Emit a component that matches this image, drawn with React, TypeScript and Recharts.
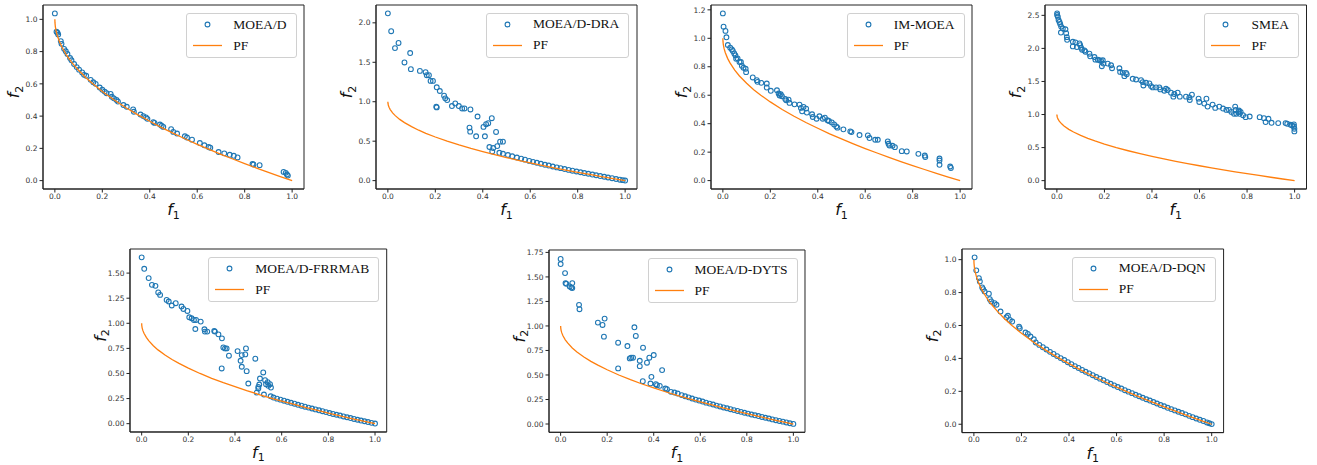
import { ScatterChart, Scatter, XAxis, YAxis, ReferenceArea } from 'recharts';

// Pareto front (f2)
const pfF1 = [0, 0.0005, 0.002, 0.005, 0.01, 0.02, 0.03, 0.05, 0.07, 0.1, 0.13, 0.16, 0.2, 0.25, 0.3, 0.35, 0.4, 0.45, 0.5, 0.55, 0.6, 0.65, 0.7, 0.75, 0.8, 0.85, 0.9, 0.95, 1.0];
const pfF2 = [1, 0.978, 0.955, 0.929, 0.9, 0.859, 0.827, 0.776, 0.735, 0.684, 0.639, 0.6, 0.553, 0.5, 0.452, 0.408, 0.368, 0.329, 0.293, 0.258, 0.225, 0.194, 0.163, 0.134, 0.106, 0.078, 0.051, 0.025, 0];

const xTicks = [0, 0.2, 0.4, 0.6, 0.8, 1];
const yTicksUnit = [0, 0.2, 0.4, 0.6, 0.8, 1];
const yTicksIm = [0, 0.2, 0.4, 0.6, 0.8, 1, 1.2];
const yTicksHalf = [0, 0.5, 1, 1.5, 2];
const yTicksSmea = [0, 0.5, 1, 1.5, 2, 2.5];
const yTicksFrr = [0, 0.25, 0.5, 0.75, 1, 1.25, 1.5];
const yTicksDyts = [0, 0.25, 0.5, 0.75, 1, 1.25, 1.5, 1.75];

type Pt = [number, number];

const moead: Pt[] = [[0, 1.037], [0.007, 0.923], [0.011, 0.917], [0.014, 0.906], [0.025, 0.865], [0.028, 0.848], [0.039, 0.817], [0.046, 0.802], [0.053, 0.785], [0.064, 0.76], [0.07, 0.746], [0.081, 0.723], [0.092, 0.704], [0.102, 0.688], [0.115, 0.671], [0.123, 0.656], [0.132, 0.65], [0.151, 0.625], [0.162, 0.61], [0.172, 0.6], [0.189, 0.577], [0.2, 0.563], [0.21, 0.552], [0.218, 0.542], [0.235, 0.538], [0.24, 0.52], [0.249, 0.51], [0.26, 0.5], [0.266, 0.49], [0.289, 0.469], [0.303, 0.458], [0.33, 0.442], [0.333, 0.427], [0.361, 0.41], [0.373, 0.4], [0.384, 0.392], [0.39, 0.383], [0.415, 0.363], [0.42, 0.358], [0.443, 0.348], [0.45, 0.34], [0.457, 0.333], [0.49, 0.319], [0.499, 0.302], [0.515, 0.292], [0.548, 0.275], [0.557, 0.267], [0.578, 0.254], [0.611, 0.233], [0.63, 0.219], [0.648, 0.208], [0.655, 0.204], [0.69, 0.177], [0.714, 0.169], [0.737, 0.16], [0.754, 0.154], [0.77, 0.144], [0.833, 0.104], [0.837, 0.1], [0.863, 0.096], [0.964, 0.054], [0.973, 0.048], [0.978, 0.038], [0.982, 0.031]];

const moeadDra: Pt[] = [[0, 2.12], [0.014, 1.894], [0.03, 1.68], [0.045, 1.745], [0.07, 1.498], [0.094, 1.617], [0.097, 1.413], [0.135, 1.391], [0.159, 1.374], [0.164, 1.336], [0.173, 1.336], [0.18, 1.264], [0.19, 1.264], [0.206, 1.183], [0.219, 1.136], [0.237, 1.077], [0.242, 1.043], [0.25, 1.021], [0.204, 0.936], [0.206, 0.928], [0.27, 0.945], [0.284, 0.979], [0.299, 0.945], [0.313, 0.915], [0.323, 0.915], [0.348, 0.902], [0.378, 0.813], [0.344, 0.672], [0.347, 0.621], [0.372, 0.562], [0.403, 0.681], [0.414, 0.715], [0.423, 0.728], [0.438, 0.791], [0.409, 0.562], [0.456, 0.617], [0.428, 0.426], [0.44, 0.37], [0.444, 0.413], [0.461, 0.438], [0.473, 0.494], [0.485, 0.494], [0.47, 0.353], [0.485, 0.34], [0.506, 0.325], [0.524, 0.309], [0.544, 0.293], [0.562, 0.279], [0.578, 0.266], [0.596, 0.25], [0.612, 0.238], [0.628, 0.226], [0.645, 0.214], [0.662, 0.201], [0.678, 0.191], [0.695, 0.179], [0.712, 0.168], [0.728, 0.158], [0.745, 0.147], [0.762, 0.136], [0.778, 0.126], [0.795, 0.116], [0.812, 0.106], [0.828, 0.097], [0.845, 0.087], [0.862, 0.077], [0.878, 0.068], [0.895, 0.058], [0.912, 0.049], [0.928, 0.04], [0.945, 0.031], [0.962, 0.021], [0.978, 0.012], [0.99, 0.006], [1.0, 0.001]];

const imMoea: Pt[] = [[0, 1.175], [0.003, 1.082], [0.011, 1.052], [0.015, 1.007], [0.021, 0.953], [0.031, 0.934], [0.038, 0.922], [0.042, 0.911], [0.048, 0.894], [0.053, 0.88], [0.056, 0.856], [0.062, 0.859], [0.07, 0.833], [0.076, 0.833], [0.08, 0.807], [0.087, 0.793], [0.096, 0.786], [0.098, 0.762], [0.126, 0.725], [0.143, 0.706], [0.146, 0.694], [0.162, 0.687], [0.185, 0.682], [0.185, 0.654], [0.202, 0.631], [0.228, 0.635], [0.235, 0.612], [0.239, 0.598], [0.244, 0.607], [0.249, 0.593], [0.263, 0.574], [0.267, 0.565], [0.277, 0.569], [0.281, 0.546], [0.302, 0.536], [0.323, 0.534], [0.329, 0.511], [0.334, 0.487], [0.34, 0.518], [0.351, 0.506], [0.354, 0.478], [0.376, 0.466], [0.379, 0.447], [0.395, 0.435], [0.407, 0.452], [0.421, 0.435], [0.43, 0.442], [0.441, 0.424], [0.447, 0.419], [0.459, 0.409], [0.469, 0.395], [0.478, 0.381], [0.483, 0.372], [0.508, 0.36], [0.537, 0.346], [0.542, 0.341], [0.576, 0.32], [0.611, 0.318], [0.618, 0.299], [0.642, 0.287], [0.653, 0.287], [0.695, 0.275], [0.698, 0.259], [0.702, 0.247], [0.715, 0.245], [0.725, 0.235], [0.754, 0.207], [0.775, 0.205], [0.824, 0.188], [0.851, 0.176], [0.853, 0.165], [0.913, 0.155], [0.913, 0.141], [0.913, 0.111], [0.958, 0.099], [0.961, 0.089]];

const smea: Pt[] = [[0.001, 2.53], [0.001, 2.505], [0.004, 2.48], [0.007, 2.43], [0.011, 2.4], [0.014, 2.37], [0.018, 2.33], [0.017, 2.24], [0.025, 2.3], [0.036, 2.29], [0.039, 2.23], [0.042, 2.17], [0.043, 2.13], [0.067, 2.1], [0.067, 2.03], [0.078, 2.09], [0.084, 2.02], [0.095, 2.075], [0.098, 2.05], [0.102, 2.01], [0.106, 1.98], [0.116, 1.97], [0.12, 1.95], [0.137, 1.92], [0.14, 1.88], [0.158, 1.87], [0.162, 1.83], [0.172, 1.83], [0.179, 1.82], [0.186, 1.81], [0.193, 1.82], [0.189, 1.73], [0.196, 1.77], [0.214, 1.77], [0.228, 1.745], [0.232, 1.7], [0.263, 1.7], [0.266, 1.645], [0.277, 1.63], [0.284, 1.58], [0.291, 1.63], [0.294, 1.61], [0.319, 1.54], [0.333, 1.53], [0.354, 1.52], [0.361, 1.49], [0.364, 1.44], [0.375, 1.48], [0.389, 1.47], [0.396, 1.43], [0.403, 1.41], [0.417, 1.41], [0.431, 1.41], [0.435, 1.38], [0.452, 1.36], [0.459, 1.39], [0.466, 1.37], [0.48, 1.33], [0.49, 1.27], [0.494, 1.31], [0.508, 1.33], [0.517, 1.27], [0.543, 1.27], [0.557, 1.26], [0.559, 1.22], [0.568, 1.3], [0.596, 1.24], [0.599, 1.19], [0.62, 1.165], [0.629, 1.24], [0.634, 1.12], [0.655, 1.15], [0.666, 1.1], [0.683, 1.12], [0.699, 1.09], [0.713, 1.07], [0.724, 1.07], [0.734, 1.04], [0.745, 1.01], [0.75, 1.12], [0.752, 1.07], [0.755, 1.01], [0.764, 1.04], [0.766, 1.06], [0.769, 1.01], [0.773, 1.04], [0.783, 0.99], [0.794, 0.96], [0.811, 0.97], [0.853, 0.96], [0.871, 0.945], [0.878, 0.885], [0.89, 0.935], [0.903, 0.875], [0.931, 0.87], [0.962, 0.87], [0.969, 0.86], [0.983, 0.845], [0.99, 0.835], [0.997, 0.82], [0.999, 0.785], [0.999, 0.745], [0.997, 0.85]];

const frrmab: Pt[] = [[0, 1.657], [0.011, 1.543], [0.03, 1.45], [0.044, 1.383], [0.059, 1.373], [0.071, 1.307], [0.079, 1.283], [0.107, 1.233], [0.116, 1.217], [0.129, 1.177], [0.146, 1.2], [0.171, 1.167], [0.179, 1.143], [0.196, 1.123], [0.204, 1.06], [0.214, 1.05], [0.224, 1.033], [0.233, 1.033], [0.23, 0.943], [0.253, 1.017], [0.269, 0.94], [0.271, 0.917], [0.281, 0.917], [0.311, 0.923], [0.314, 0.917], [0.329, 0.89], [0.344, 0.85], [0.35, 0.76], [0.357, 0.75], [0.364, 0.75], [0.343, 0.55], [0.374, 0.677], [0.411, 0.723], [0.424, 0.627], [0.429, 0.683], [0.429, 0.567], [0.444, 0.69], [0.447, 0.75], [0.45, 0.523], [0.457, 0.4], [0.487, 0.647], [0.493, 0.31], [0.5, 0.367], [0.504, 0.39], [0.507, 0.45], [0.5, 0.35], [0.521, 0.51], [0.529, 0.433], [0.533, 0.393], [0.524, 0.29], [0.54, 0.413], [0.543, 0.377], [0.55, 0.393], [0.554, 0.36], [0.553, 0.273], [0.565, 0.26], [0.58, 0.249], [0.595, 0.239], [0.61, 0.229], [0.625, 0.218], [0.64, 0.208], [0.655, 0.199], [0.67, 0.188], [0.685, 0.179], [0.7, 0.169], [0.715, 0.16], [0.73, 0.151], [0.745, 0.142], [0.76, 0.133], [0.775, 0.124], [0.79, 0.115], [0.805, 0.106], [0.82, 0.097], [0.835, 0.089], [0.85, 0.081], [0.865, 0.072], [0.88, 0.064], [0.895, 0.056], [0.91, 0.047], [0.925, 0.039], [0.94, 0.031], [0.955, 0.024], [0.97, 0.016], [0.985, 0.008], [1.0, 0.001]];

const dyts: Pt[] = [[0, 1.683], [0, 1.631], [0.019, 1.539], [0.021, 1.437], [0.024, 1.43], [0.039, 1.403], [0.046, 1.392], [0.05, 1.437], [0.05, 1.386], [0.079, 1.215], [0.081, 1.171], [0.16, 1.034], [0.18, 1.01], [0.189, 1.075], [0.186, 0.891], [0.247, 0.829], [0.247, 0.567], [0.287, 0.795], [0.297, 0.669], [0.303, 0.676], [0.311, 0.676], [0.317, 0.986], [0.323, 0.898], [0.34, 0.645], [0.34, 0.59], [0.353, 0.437], [0.354, 0.778], [0.371, 0.625], [0.381, 0.676], [0.4, 0.703], [0.39, 0.481], [0.386, 0.413], [0.409, 0.406], [0.414, 0.396], [0.426, 0.389], [0.436, 0.55], [0.45, 0.362], [0.457, 0.355], [0.474, 0.328], [0.489, 0.321], [0.503, 0.311], [0.52, 0.295], [0.535, 0.283], [0.55, 0.272], [0.565, 0.26], [0.58, 0.249], [0.595, 0.239], [0.61, 0.229], [0.625, 0.218], [0.64, 0.208], [0.655, 0.199], [0.67, 0.188], [0.685, 0.179], [0.7, 0.169], [0.715, 0.16], [0.73, 0.151], [0.745, 0.142], [0.76, 0.133], [0.775, 0.124], [0.79, 0.115], [0.805, 0.106], [0.82, 0.097], [0.835, 0.089], [0.85, 0.081], [0.865, 0.072], [0.88, 0.064], [0.895, 0.056], [0.91, 0.047], [0.925, 0.039], [0.94, 0.031], [0.955, 0.024], [0.97, 0.016], [0.985, 0.008], [1.0, 0.001]];

const dqn: Pt[] = [[0.003, 1.014], [0.01, 0.935], [0.021, 0.888], [0.025, 0.868], [0.035, 0.831], [0.039, 0.821], [0.045, 0.807], [0.063, 0.793], [0.067, 0.76], [0.073, 0.746], [0.087, 0.736], [0.095, 0.726], [0.112, 0.685], [0.137, 0.65], [0.143, 0.659], [0.151, 0.634], [0.161, 0.624], [0.19, 0.593], [0.193, 0.583], [0.217, 0.557], [0.227, 0.549], [0.238, 0.533], [0.252, 0.516], [0.26, 0.497], [0.275, 0.482], [0.29, 0.468], [0.305, 0.454], [0.32, 0.44], [0.335, 0.427], [0.35, 0.414], [0.365, 0.402], [0.38, 0.39], [0.395, 0.377], [0.41, 0.365], [0.425, 0.353], [0.44, 0.342], [0.455, 0.33], [0.47, 0.319], [0.485, 0.309], [0.5, 0.298], [0.515, 0.287], [0.53, 0.277], [0.545, 0.267], [0.56, 0.256], [0.575, 0.246], [0.59, 0.236], [0.605, 0.226], [0.62, 0.217], [0.635, 0.207], [0.65, 0.198], [0.665, 0.189], [0.68, 0.179], [0.695, 0.17], [0.71, 0.161], [0.725, 0.152], [0.74, 0.144], [0.755, 0.135], [0.77, 0.126], [0.785, 0.117], [0.8, 0.109], [0.815, 0.1], [0.83, 0.092], [0.845, 0.084], [0.86, 0.076], [0.875, 0.068], [0.89, 0.06], [0.905, 0.051], [0.92, 0.043], [0.935, 0.035], [0.95, 0.027], [0.965, 0.02], [0.98, 0.011], [0.99, 0.006], [1.0, 0.001]];

const BLUE = '#1f77b4';
const ORANGE = '#ff7f0e';
const AXIS = '#222';
const X_DOMAIN = [-0.05, 1.05];

const pf = pfF1.map((x, i) => ({ x, y: pfF2[i] }));
const toRows = (pts: Pt[]) => pts.map(([x, y]) => ({ x, y }));

const panels = [
  { name: 'MOEA/D', pts: moead, l: 43, t: 5, w: 261, h: 184, yDomain: [-0.052, 1.089], yTicks: yTicksUnit, digits: 1 },
  { name: 'MOEA/D-DRA', pts: moeadDra, l: 375.7, t: 4.7, w: 261, h: 184, yDomain: [-0.106, 2.226], yTicks: yTicksHalf, digits: 1 },
  { name: 'IM-MOEA', pts: imMoea, l: 711, t: 5, w: 261, h: 184, yDomain: [-0.059, 1.234], yTicks: yTicksIm, digits: 1 },
  { name: 'SMEA', pts: smea, l: 1045, t: 5, w: 261.5, h: 184, yDomain: [-0.1265, 2.6565], yTicks: yTicksSmea, digits: 1 },
  { name: 'MOEA/D-FRRMAB', pts: frrmab, l: 130, t: 249.3, w: 256.7, h: 183, yDomain: [-0.083, 1.74], yTicks: yTicksFrr, digits: 2 },
  { name: 'MOEA/D-DYTS', pts: dyts, l: 549, t: 250, w: 256, h: 182.3, yDomain: [-0.0845, 1.7745], yTicks: yTicksDyts, digits: 2 },
  { name: 'MOEA/D-DQN', pts: dqn, l: 961.7, t: 248.7, w: 261.6, h: 183.6, yDomain: [-0.0507, 1.0647], yTicks: yTicksUnit, digits: 1 },
];

const Ring = (p: any) => (
  <circle cx={p.cx} cy={p.cy} r={2.4} fill="none" stroke={BLUE} strokeWidth={1.1} />
);
const NoDot = () => <g />;

function XTitle({ viewBox }: any) {
  if (!viewBox) return null;
  const cx = viewBox.x + viewBox.width / 2;
  return (
    <text x={cx} y={viewBox.y + 26} textAnchor="middle" fontFamily="DejaVu Sans" fontStyle="italic" fontSize={16} fill="#111">
      f<tspan fontStyle="normal" fontSize={11} dy={3.5}>1</tspan>
    </text>
  );
}

function YTitle({ viewBox }: any) {
  if (!viewBox) return null;
  const x = viewBox.x + viewBox.width - 24;
  const y = viewBox.y + viewBox.height / 2 - 5;
  return (
    <text x={x} y={y} transform={`rotate(-90 ${x} ${y})`} textAnchor="middle" fontFamily="DejaVu Sans" fontStyle="italic" fontSize={16} fill="#111">
      f<tspan fontStyle="normal" fontSize={11} dy={3.5}>2</tspan>
    </text>
  );
}

function LegendBox({ name }: { name: string }) {
  const row: React.CSSProperties = { display: 'flex', alignItems: 'center', height: 21 };
  const label: React.CSSProperties = { marginLeft: 11, fontFamily: '"Liberation Serif", serif', fontSize: 13.5, color: '#111', whiteSpace: 'nowrap' };
  return (
    <div style={{ position: 'absolute', right: 17.5, top: 13, background: '#fff', border: '1px solid #d0d0d0', borderRadius: 3, padding: '0 9px 1px 6px' }}>
      <div style={row}>
        <svg width={29} height={21}><circle cx={14.5} cy={10.5} r={2.4} fill="none" stroke={BLUE} strokeWidth={1.1} /></svg>
        <span style={label}>{name}</span>
      </div>
      <div style={row}>
        <svg width={29} height={21}><line x1={0} x2={29} y1={10.5} y2={10.5} stroke={ORANGE} strokeWidth={1.3} /></svg>
        <span style={label}>PF</span>
      </div>
    </div>
  );
}

export default function App() {
  return (
    <div style={{ position: 'absolute', left: 0, top: 0, width: 1317, height: 465, background: '#fff', overflow: 'hidden' }}>
      {panels.map((p) => {
        const W = p.w + 55;
        const H = p.h + 50;
        return (
          <div key={p.name} style={{ position: 'absolute', left: p.l - 45, top: p.t - 5, width: W, height: H }}>
            <ScatterChart width={W} height={H} margin={{ top: 5, right: 10, bottom: 0, left: 0 }}>
              <XAxis
                type="number"
                dataKey="x"
                domain={X_DOMAIN}
                allowDataOverflow
                ticks={xTicks}
                tickFormatter={(v: number) => v.toFixed(1)}
                height={45}
                tickSize={3.5}
                tickMargin={1}
                stroke={AXIS}
                tick={{ fontSize: 7.5, fill: '#333', fontFamily: 'DejaVu Sans' }}
                label={<XTitle />}
              />
              <YAxis
                type="number"
                dataKey="y"
                domain={p.yDomain}
                allowDataOverflow
                ticks={p.yTicks}
                tickFormatter={(v: number) => v.toFixed(p.digits)}
                width={45}
                tickSize={3.5}
                tickMargin={2}
                stroke={AXIS}
                tick={{ fontSize: 7.5, fill: '#333', fontFamily: 'DejaVu Sans' }}
                label={<YTitle />}
              />
              <ReferenceArea
                x1={X_DOMAIN[0]}
                x2={X_DOMAIN[1]}
                y1={p.yDomain[0]}
                y2={p.yDomain[1]}
                fill="none"
                fillOpacity={0}
                stroke={AXIS}
                strokeWidth={1}
                ifOverflow="visible"
              />
              <Scatter data={toRows(p.pts)} shape={Ring} isAnimationActive={false} />
              <Scatter data={pf} line={{ stroke: ORANGE, strokeWidth: 1.3 }} shape={NoDot} isAnimationActive={false} />
            </ScatterChart>
            <LegendBox name={p.name} />
          </div>
        );
      })}
    </div>
  );
}
